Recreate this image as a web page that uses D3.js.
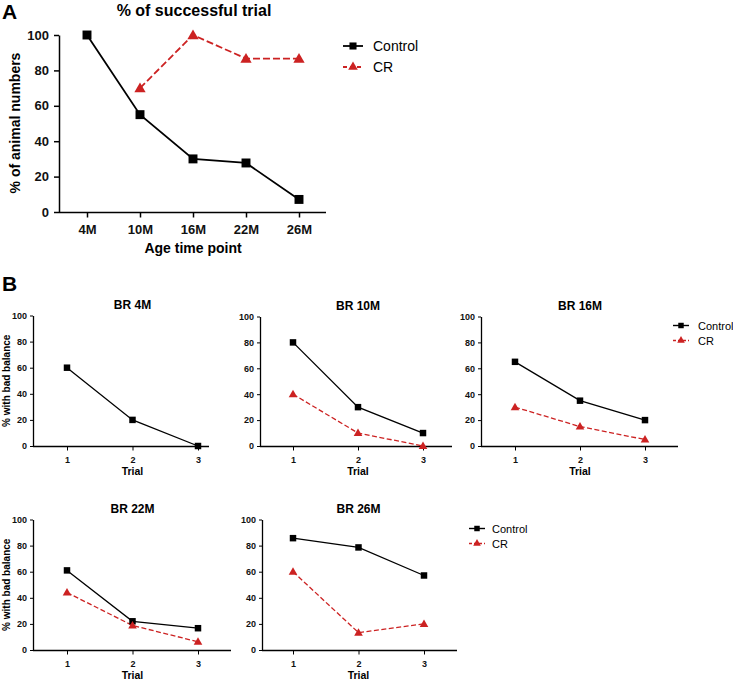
<!DOCTYPE html>
<html><head><meta charset="utf-8">
<script src="https://cdn.jsdelivr.net/npm/d3@7/dist/d3.min.js"></script>
<style>body{margin:0;background:#fff}svg{display:block}text{font-family:"Liberation Sans",Arial,sans-serif}</style>
</head><body><svg id="c" width="733" height="682"></svg>
<script>
// ---- Data ----
const ageLabels = ["4M","10M","16M","22M","26M"];
const successControl = [100, 55, 30, 27.7, 7.1];
const successCR = [null, 70, 100, 86.7, 86.7];
const yTicks = [0,20,40,60,80,100];
const trials = [1,2,3];
const panelTitles = ["BR 4M","BR 10M","BR 16M","BR 22M","BR 26M"];
const brControl = [
  [60, 20, 0],
  [80, 30, 10],
  [65, 35, 20],
  [61, 22, 16.7],
  [85.7, 78.6, 57.1]
];
const brCR = [
  null,
  [40, 10, 0],
  [30, 15, 5],
  [44, 18.8, 6.3],
  [60, 13.3, 20]
];
const seriesNames = ["Control","CR"];

const RED = "#cc2222";
const svg = d3.select("#c");

function drawMarkers(g, pts, type, size, color){
  const sym = d3.symbol().type(type === "square" ? d3.symbolSquare : d3.symbolTriangle).size(size);
  g.selectAll(null).data(pts).enter().append("path")
    .attr("d", sym).attr("transform", d => `translate(${d[0]},${d[1]})`)
    .attr("fill", color);
}

// ---- Panel A ----
(function(){
  const g = svg.append("g");
  const x = d3.scalePoint().domain(ageLabels).range([87, 299]);
  const y = d3.scaleLinear().domain([0,100]).range([212, 35]);
  const axX0 = 59, axX1 = 326;
  g.append("line").attr("x1",axX0).attr("x2",axX1).attr("y1",212.5).attr("y2",212.5).attr("stroke","#000").attr("stroke-width",1.5);
  const ya = g.append("g").attr("transform",`translate(${axX0},0)`)
    .call(d3.axisLeft(y).tickValues(yTicks).tickSize(5).tickSizeOuter(0));
  ya.select(".domain").attr("stroke-width",1.5);
  ya.selectAll(".tick line").attr("stroke-width",1.5);
  ya.selectAll("text").attr("font-size",13).attr("font-weight","bold").attr("fill","#111").attr("dx",-2);
  const xa = g.append("g").attr("transform",`translate(0,212.5)`)
    .call(d3.axisBottom(x).tickSize(5).tickSizeOuter(0));
  xa.select(".domain").remove();
  xa.selectAll(".tick line").attr("stroke-width",1.5);
  xa.selectAll("text").attr("font-size",13).attr("font-weight","bold").attr("fill","#111").attr("dy","1.0em");

  const line = d3.line().defined(d=>d.v!=null).x(d=>x(d.k)).y(d=>y(d.v));
  const cd = ageLabels.map((k,i)=>({k, v:successControl[i]}));
  const rd = ageLabels.map((k,i)=>({k, v:successCR[i]}));
  g.append("path").attr("d",line(rd)).attr("fill","none").attr("stroke",RED).attr("stroke-width",1.8).attr("stroke-dasharray","7,3");
  g.append("path").attr("d",line(cd)).attr("fill","none").attr("stroke","#000").attr("stroke-width",1.8);
  drawMarkers(g, cd.filter(d=>d.v!=null).map(d=>[x(d.k),y(d.v)]), "square", 80, "#000");
  drawMarkers(g, rd.filter(d=>d.v!=null).map(d=>[x(d.k),y(d.v)+1]), "tri", 55, RED);

  g.append("text").attr("x",194).attr("y",16).attr("text-anchor","middle").attr("font-size",16).attr("font-weight","bold").text("% of successful trial");
  g.append("text").attr("x",193).attr("y",253).attr("text-anchor","middle").attr("font-size",14).attr("font-weight","bold").text("Age time point");
  g.append("text").attr("transform","translate(20,123) rotate(-90)").attr("text-anchor","middle").attr("font-size",14).attr("font-weight","bold").text("% of animal numbers");
  g.append("text").attr("x",2).attr("y",19).attr("font-size",21).attr("font-weight","bold").text("A");

  const lg = g.append("g");
  lg.append("line").attr("x1",343).attr("x2",363).attr("y1",46).attr("y2",46).attr("stroke","#000").attr("stroke-width",1.8);
  drawMarkers(lg, [[353,46]], "square", 50, "#000");
  lg.append("line").attr("x1",343).attr("x2",363).attr("y1",67).attr("y2",67).attr("stroke",RED).attr("stroke-width",1.8).attr("stroke-dasharray","4,3");
  drawMarkers(lg, [[353,67]], "tri", 40, RED);
  lg.append("text").attr("x",373).attr("y",51).attr("font-size",14).text(seriesNames[0]);
  lg.append("text").attr("x",373).attr("y",72).attr("font-size",14).text(seriesNames[1]);
})();

svg.append("text").attr("x",2).attr("y",291).attr("font-size",21).attr("font-weight","bold").text("B");

// ---- Panel B ----
const layouts = [
  {ax:33,  ax1:209, p1:67,  p3:198, top:315.5, bot:446, ylabel:true},
  {ax:260, ax1:452, p1:293, p3:423, top:316.5, bot:446, ylabel:false},
  {ax:481, ax1:678, p1:515, p3:645, top:316.5, bot:446, ylabel:false},
  {ax:33,  ax1:231, p1:67,  p3:198, top:519.5, bot:650, ylabel:true},
  {ax:262, ax1:457, p1:293, p3:424, top:519.5, bot:650, ylabel:false}
];

layouts.forEach((L,i)=>{
  const g = svg.append("g");
  const x = d3.scaleLinear().domain([1,3]).range([L.p1, L.p3]);
  const y = d3.scaleLinear().domain([0,100]).range([L.bot, L.top]);
  g.append("line").attr("x1",L.ax).attr("x2",L.ax1).attr("y1",L.bot+0.5).attr("y2",L.bot+0.5).attr("stroke","#000").attr("stroke-width",1.3);
  const ya = g.append("g").attr("transform",`translate(${L.ax},0)`)
    .call(d3.axisLeft(y).tickValues(yTicks).tickSize(3).tickSizeOuter(0));
  ya.select(".domain").attr("stroke-width",1.3);
  ya.selectAll("text").attr("font-size",9).attr("font-weight","bold").attr("fill","#111").attr("font-family","Liberation Sans, Arial, sans-serif");
  const xa = g.append("g").attr("transform",`translate(0,${L.bot+0.5})`)
    .call(d3.axisBottom(x).tickValues(trials).tickFormat(d3.format("d")).tickSize(4).tickSizeOuter(0));
  xa.select(".domain").remove();
  xa.selectAll("text").attr("font-size",9).attr("font-weight","bold").attr("fill","#111").attr("font-family","Liberation Sans, Arial, sans-serif").attr("dy","1.1em");

  const line = d3.line().x((d,j)=>x(trials[j])).y(d=>y(d));
  if (brCR[i]) {
    g.append("path").attr("d",line(brCR[i])).attr("fill","none").attr("stroke",RED).attr("stroke-width",1.3).attr("stroke-dasharray","5,2.5");
  }
  g.append("path").attr("d",line(brControl[i])).attr("fill","none").attr("stroke","#000").attr("stroke-width",1.3);
  drawMarkers(g, brControl[i].map((v,j)=>[x(trials[j]),y(v)]), "square", 42, "#000");
  if (brCR[i]) drawMarkers(g, brCR[i].map((v,j)=>[x(trials[j]),y(v)+0.5]), "tri", 32, RED);

  const cx = (L.p1+L.p3)/2;
  g.append("text").attr("x",cx).attr("y",L.top-7).attr("text-anchor","middle").attr("font-size",12).attr("font-weight","bold").text(panelTitles[i]);
  g.append("text").attr("x",cx).attr("y",L.bot+29).attr("text-anchor","middle").attr("font-size",10.5).attr("font-weight","bold").text("Trial");
  if (L.ylabel) {
    g.append("text").attr("transform",`translate(10,${(L.top+L.bot)/2}) rotate(-90)`).attr("text-anchor","middle").attr("font-size",10).attr("font-weight","bold").text("% with bad balance");
  }
});

// Panel B legends
[{mx:681, tx:698, y1:325.5, y2:340.5},{mx:477, tx:492, y1:528.5, y2:543.5}].forEach(P=>{
  const lg = svg.append("g");
  lg.append("line").attr("x1",P.mx-8).attr("x2",P.mx+8).attr("y1",P.y1).attr("y2",P.y1).attr("stroke","#000").attr("stroke-width",1.4);
  drawMarkers(lg, [[P.mx,P.y1]], "square", 30, "#000");
  lg.append("line").attr("x1",P.mx-8).attr("x2",P.mx+8).attr("y1",P.y2).attr("y2",P.y2).attr("stroke",RED).attr("stroke-width",1.4).attr("stroke-dasharray","3,2");
  drawMarkers(lg, [[P.mx,P.y2]], "tri", 25, RED);
  lg.append("text").attr("x",P.tx).attr("y",P.y1+4).attr("font-size",11).text(seriesNames[0]);
  lg.append("text").attr("x",P.tx).attr("y",P.y2+4).attr("font-size",11).text(seriesNames[1]);
});
</script></body></html>
